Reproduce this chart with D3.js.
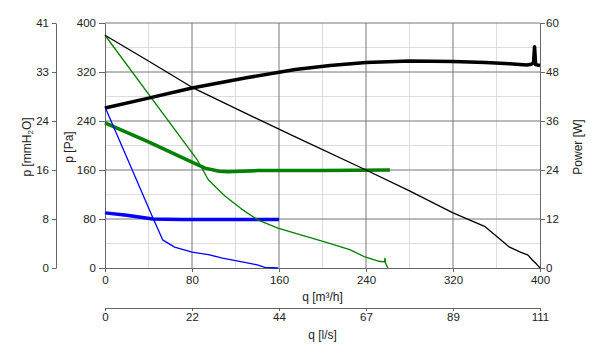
<!DOCTYPE html>
<html>
<head>
<meta charset="utf-8">
<script src="https://cdn.jsdelivr.net/npm/d3@7"></script>
<style>
  body { margin: 0; background: #fff; }
  svg { font-family: "Liberation Sans", Arial, sans-serif; }
  .axis text { font-size: 11.5px; fill: #222; }
  .axis path, .axis line { stroke: #666; }
  .title { font-size: 12px; fill: #222; }
</style>
</head>
<body>
<div id="chart"></div>
<script>
// tick labels
const qTicks = [0, 80, 160, 240, 320, 400];
const lsLabels = ["0", "22", "44", "67", "89", "111"];
const paTicks = [0, 80, 160, 240, 320, 400];
const mmLabels = ["0", "8", "16", "24", "33", "41"];
const powerTicks = [0, 12, 24, 36, 48, 60];

// curves: [q m3/h, value]
const blackPressure = [[0,380],[40,338],[80,295],[130,252],[175,214],[240,160],[280,126],[320,90],[349,68],[360,52],[372,34],[382,26],[389,21],[393,13],[397,6],[400,0]];
const blackPower = [[0,39.2],[40,41.6],[80,44.1],[130,46.6],[175,48.6],[207,49.6],[240,50.3],[280,50.7],[320,50.6],[350,50.3],[372,50.0],[388,49.7],[392,49.9],[394,50.2],[395,54.2],[396,49.8],[400,49.6]];
const greenPressure = [[0,380],[85,176],[95,144],[110,118],[125,97],[141,78],[159,65],[180,54],[205,41],[225,30],[239,18],[252,11],[257,10],[257.5,16],[258,8],[260,0]];
const greenPressureHi = [[0,237],[40,206],[76,176],[92,163],[105,158],[113,157],[140,159],[200,159],[262,160]];
const bluePressure = [[0,263],[17,193],[44,82],[53,46],[64,34],[80,26],[95,22],[108,16],[126,10],[140,5],[147,1],[159,0]];
const bluePressureHi = [[0,90],[20,86],[44,80],[70,79],[100,79],[130,79],[160,79]];

const width = 600, height = 352;
const margin = { top: 23, right: 60, bottom: 84, left: 105 };

const svg = d3.select("#chart").append("svg")
  .attr("width", width).attr("height", height);

const x = d3.scaleLinear().domain([0, 400]).range([margin.left, 540]);
const y = d3.scaleLinear().domain([0, 400]).range([268, margin.top]);
const yPow = d3.scaleLinear().domain([0, 60]).range([268, margin.top]);

// grid - minor first, then major
const minorV = d3.range(40, 400, 80), minorH = d3.range(40, 400, 80);
svg.append("g").selectAll("line").data(minorV).enter().append("line")
  .attr("x1", d => x(d)).attr("x2", d => x(d))
  .attr("y1", y(0)).attr("y2", y(400))
  .attr("stroke", "#dcdcdc");
svg.append("g").selectAll("line").data(minorH).enter().append("line")
  .attr("y1", d => y(d)).attr("y2", d => y(d))
  .attr("x1", x(0)).attr("x2", x(400))
  .attr("stroke", "#dcdcdc");
svg.append("g").selectAll("line").data(qTicks.slice(1, -1)).enter().append("line")
  .attr("x1", d => x(d)).attr("x2", d => x(d))
  .attr("y1", y(0)).attr("y2", y(400))
  .attr("stroke", "#777");
svg.append("g").selectAll("line").data(paTicks.slice(1)).enter().append("line")
  .attr("y1", d => y(d)).attr("y2", d => y(d))
  .attr("x1", x(0)).attr("x2", x(400))
  .attr("stroke", "#777");

// axes
svg.append("g").attr("class", "axis")
  .attr("transform", `translate(${x(0)},0)`)
  .call(d3.axisLeft(y).tickValues(paTicks).tickSizeOuter(0).tickPadding(3));

svg.append("g").attr("class", "axis")
  .attr("transform", "translate(56,0)")
  .call(d3.axisLeft(y).tickValues(paTicks).tickSize(4).tickSizeOuter(0).tickPadding(3)
    .tickFormat((d, i) => mmLabels[i]));

svg.append("g").attr("class", "axis")
  .attr("transform", `translate(${x(400)},0)`)
  .call(d3.axisRight(yPow).tickValues(powerTicks).tickSize(5).tickSizeOuter(0).tickPadding(1));

svg.append("g").attr("class", "axis")
  .attr("transform", `translate(0,${y(0)})`)
  .call(d3.axisBottom(x).tickValues(qTicks).tickSize(4).tickSizeOuter(0).tickPadding(4));

svg.append("g").attr("class", "axis")
  .attr("transform", "translate(0,308)")
  .call(d3.axisBottom(x).tickValues(qTicks).tickSize(3).tickSizeOuter(0).tickPadding(2)
    .tickFormat((d, i) => lsLabels[i]));

// axis titles
svg.append("text").attr("class", "title")
  .attr("transform", "translate(31,147) rotate(-90)")
  .attr("text-anchor", "middle").html("p [mmH<tspan font-size='8' dy='2'>2</tspan><tspan dy='-2'>O]</tspan>");
svg.append("text").attr("class", "title")
  .attr("transform", "translate(73,147) rotate(-90)")
  .attr("text-anchor", "middle").text("p [Pa]");
svg.append("text").attr("class", "title")
  .attr("transform", "translate(582,147) rotate(-90)")
  .attr("text-anchor", "middle").text("Power [W]");
svg.append("text").attr("class", "title")
  .attr("x", x(200)).attr("y", 301)
  .attr("text-anchor", "middle").text("q [m³/h]");
svg.append("text").attr("class", "title")
  .attr("x", x(200)).attr("y", 339)
  .attr("text-anchor", "middle").text("q [l/s]");

// curves
const linePa = d3.line().x(d => x(d[0])).y(d => y(d[1]));
const linePow = d3.line().x(d => x(d[0])).y(d => yPow(d[1]));

function drawCurve(data, gen, color, w) {
  svg.append("path").datum(data)
    .attr("d", gen)
    .attr("fill", "none")
    .attr("stroke", color)
    .attr("stroke-width", w)
    .attr("stroke-linejoin", "round");
}

drawCurve(greenPressureHi, linePa, "#008000", 3.5);
drawCurve(bluePressureHi, linePa, "#0000ff", 3.5);
drawCurve(greenPressure, linePa, "#008000", 1.3);
drawCurve(bluePressure, linePa, "#0000ff", 1.3);
drawCurve(blackPressure, linePa, "#000", 1.3);
drawCurve(blackPower, linePow, "#000", 3.5);
</script>
</body>
</html>
